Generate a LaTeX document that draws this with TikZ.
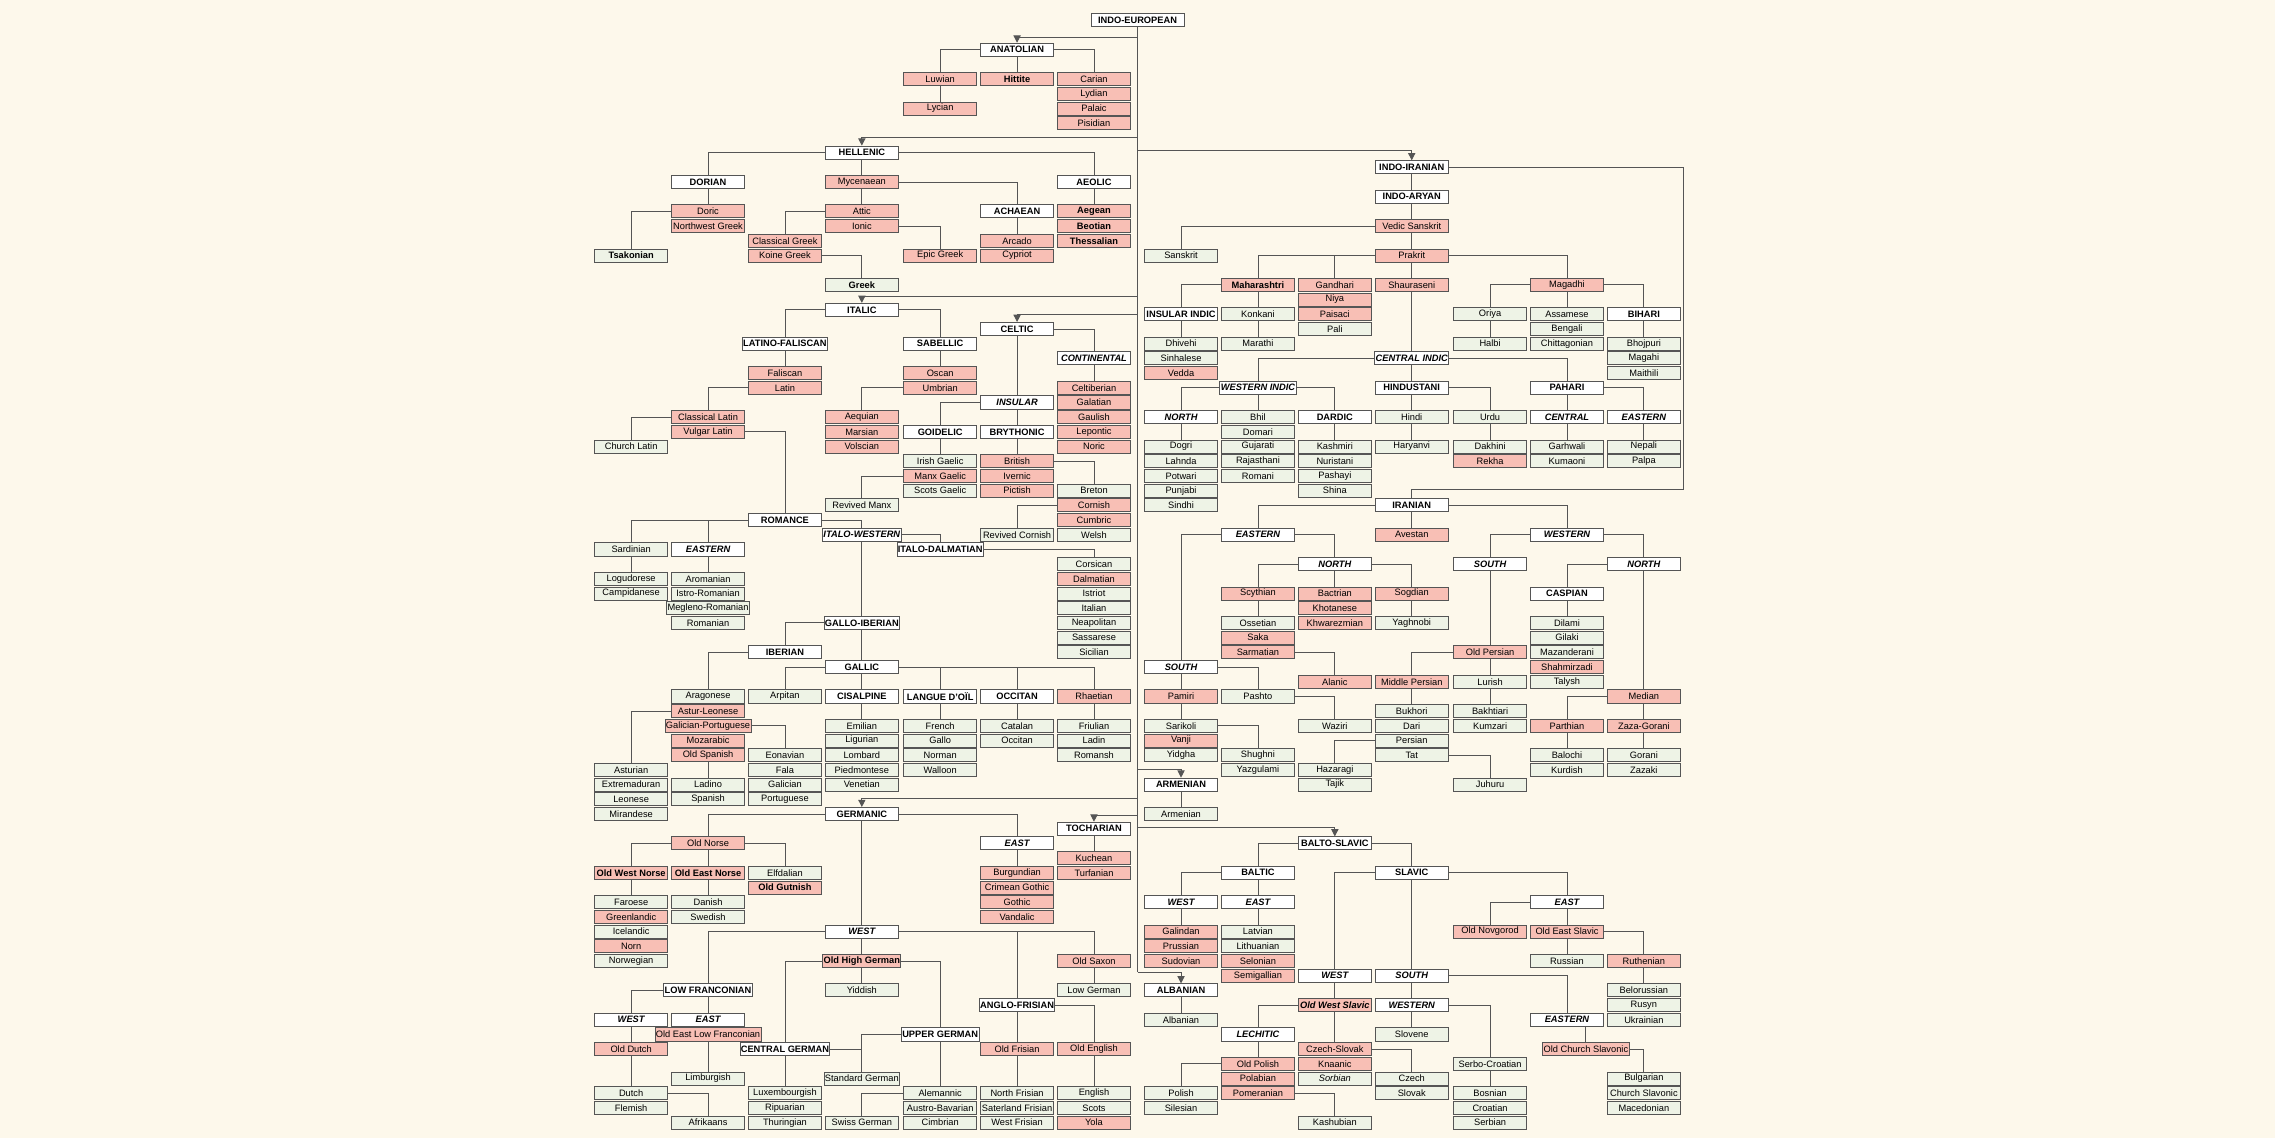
\documentclass[tikz,border=0pt]{standalone}
\usepackage{fontspec}
\setmainfont{Liberation Sans}
\usetikzlibrary{arrows.meta}
\definecolor{paper}{HTML}{FDF8EB}
\definecolor{dead}{HTML}{F8BFB5}
\definecolor{alive}{HTML}{EEF3E6}
\definecolor{rim}{HTML}{555555}
\pgfdeclarelayer{bg}
\pgfdeclarelayer{edges}
\pgfsetlayers{bg,edges,main}
\tikzset{
  lang/.style={draw=rim, line width=0.6pt, minimum width=50pt, minimum height=9pt,
    inner sep=0.6pt, font=\fontsize{6.4}{7}\selectfont},
  grp/.style={lang, fill=white, font=\fontsize{6.4}{7}\selectfont\bfseries},
  grpi/.style={grp, font=\fontsize{6.4}{7}\selectfont\bfseries\itshape},
  ext/.style={lang, fill=dead},
  extb/.style={ext, font=\fontsize{6.4}{7}\selectfont\bfseries},
  extbi/.style={ext, font=\fontsize{6.4}{7}\selectfont\bfseries\itshape},
  liv/.style={lang, fill=alive},
  livb/.style={liv, font=\fontsize{6.4}{7}\selectfont\bfseries},
  link/.style={draw=rim, line width=0.6pt},
  branch/.style={link, -{Triangle[length=5pt,width=5pt]}}
}
% node: name, x, row, style, text
\newcommand\nd[5]{\node[#4] (#1) at (#2,{14+10.13*(#3)}) {#5};}
\def\cA{435}\def\cB{488}\def\cC{541}\def\cD{594}\def\cE{648}\def\cF{701}\def\cG{754}
\def\dA{814}\def\dB{867}\def\dC{920}\def\dD{973}\def\dE{1027}\def\dF{1080}\def\dG{1133}
\begin{document}
\begin{tikzpicture}[x=1pt,y=-1pt]
\begin{pgfonlayer}{bg}
  \fill[paper] (0,0) rectangle (1568,784);
\end{pgfonlayer}
\useasboundingbox (0,0) rectangle (1568,784);

% root and trunk
\node[grp, minimum width=64pt] (ie) at (784,14) {INDO-EUROPEAN};

% Anatolian
\nd{anat}{\cF}{2}{grp}{ANATOLIAN}
\nd{luwian}{\cE}{4}{ext}{Luwian}
\nd{lycian}{\cE}{6}{ext}{Lycian}
\nd{hittite}{\cF}{4}{extb}{Hittite}
\nd{carian}{\cG}{4}{ext}{Carian}
\nd{lydian}{\cG}{5}{ext}{Lydian}
\nd{palaic}{\cG}{6}{ext}{Palaic}
\nd{pisidian}{\cG}{7}{ext}{Pisidian}

% Hellenic
\nd{hell}{\cD}{9}{grp}{HELLENIC}
\nd{dorian}{\cB}{11}{grp}{DORIAN}
\nd{myc}{\cD}{11}{ext}{Mycenaean}
\nd{aeolic}{\cG}{11}{grp}{AEOLIC}
\nd{doric}{\cB}{13}{ext}{Doric}
\nd{nwgreek}{\cB}{14}{ext}{Northwest Greek}
\nd{attic}{\cD}{13}{ext}{Attic}
\nd{ionic}{\cD}{14}{ext}{Ionic}
\nd{achaean}{\cF}{13}{grp}{ACHAEAN}
\nd{aegean}{\cG}{13}{extb}{Aegean}
\nd{beotian}{\cG}{14}{extb}{Beotian}
\nd{thess}{\cG}{15}{extb}{Thessalian}
\nd{clgreek}{\cC}{15}{ext}{Classical Greek}
\nd{koine}{\cC}{16}{ext}{Koine Greek}
\nd{epic}{\cE}{16}{ext}{Epic Greek}
\nd{arcado}{\cF}{15}{ext}{Arcado}
\nd{cypriot}{\cF}{16}{ext}{Cypriot}
\nd{tsakonian}{\cA}{16}{livb}{Tsakonian}
\nd{greek}{\cD}{18}{livb}{Greek}

% Italic
\nd{italic}{\cD}{19.7}{grp}{ITALIC}
\nd{latfal}{\cC}{22}{grp}{LATINO-FALISCAN}
\nd{sabellic}{\cE}{22}{grp}{SABELLIC}
\nd{faliscan}{\cC}{24}{ext}{Faliscan}
\nd{latin}{\cC}{25}{ext}{Latin}
\nd{oscan}{\cE}{24}{ext}{Oscan}
\nd{umbrian}{\cE}{25}{ext}{Umbrian}
\nd{cllatin}{\cB}{27}{ext}{Classical Latin}
\nd{vglatin}{\cB}{28}{ext}{Vulgar Latin}
\nd{aequian}{\cD}{27}{ext}{Aequian}
\nd{marsian}{\cD}{28}{ext}{Marsian}
\nd{volscian}{\cD}{29}{ext}{Volscian}
\nd{chlatin}{\cA}{29}{liv}{Church Latin}

% Romance
\nd{romance}{\cC}{34}{grp}{ROMANCE}
\nd{itwest}{\cD}{35}{grpi}{ITALO-WESTERN}
\nd{itdalm}{\cE}{36}{grp}{ITALO-DALMATIAN}
\nd{sardinian}{\cA}{36}{liv}{Sardinian}
\nd{roeast}{\cB}{36}{grpi}{EASTERN}
\nd{logudorese}{\cA}{38}{liv}{Logudorese}
\nd{campidanese}{\cA}{39}{liv}{Campidanese}
\nd{aromanian}{\cB}{38}{liv}{Aromanian}
\nd{istrorom}{\cB}{39}{liv}{Istro-Romanian}
\nd{meglenorom}{\cB}{40}{liv}{Megleno-Romanian}
\nd{romanian}{\cB}{41}{liv}{Romanian}
\nd{corsican}{\cG}{37}{liv}{Corsican}
\nd{dalmatian}{\cG}{38}{ext}{Dalmatian}
\nd{istriot}{\cG}{39}{liv}{Istriot}
\nd{italian}{\cG}{40}{liv}{Italian}
\nd{neapolitan}{\cG}{41}{liv}{Neapolitan}
\nd{sassarese}{\cG}{42}{liv}{Sassarese}
\nd{sicilian}{\cG}{43}{liv}{Sicilian}
\nd{galloib}{\cD}{41}{grp}{GALLO-IBERIAN}
\nd{iberian}{\cC}{43}{grp}{IBERIAN}
\nd{gallic}{\cD}{44}{grp}{GALLIC}
\nd{aragonese}{\cB}{46}{liv}{Aragonese}
\nd{asturleon}{\cB}{47}{ext}{Astur-Leonese}
\nd{galport}{\cB}{48}{ext}{Galician-Portuguese}
\nd{mozarabic}{\cB}{49}{ext}{Mozarabic}
\nd{oldspanish}{\cB}{50}{ext}{Old Spanish}
\nd{asturian}{\cA}{51}{liv}{Asturian}
\nd{extremaduran}{\cA}{52}{liv}{Extremaduran}
\nd{leonese}{\cA}{53}{liv}{Leonese}
\nd{mirandese}{\cA}{54}{liv}{Mirandese}
\nd{ladino}{\cB}{52}{liv}{Ladino}
\nd{spanish}{\cB}{53}{liv}{Spanish}
\nd{eonavian}{\cC}{50}{liv}{Eonavian}
\nd{fala}{\cC}{51}{liv}{Fala}
\nd{galician}{\cC}{52}{liv}{Galician}
\nd{portuguese}{\cC}{53}{liv}{Portuguese}
\nd{arpitan}{\cC}{46}{liv}{Arpitan}
\nd{cisalpine}{\cD}{46}{grp}{CISALPINE}
\nd{oil}{\cE}{46}{grp}{LANGUE D'OÏL}
\nd{occitangrp}{\cF}{46}{grp}{OCCITAN}
\nd{rhaetian}{\cG}{46}{ext}{Rhaetian}
\nd{emilian}{\cD}{48}{liv}{Emilian}
\nd{ligurian}{\cD}{49}{liv}{Ligurian}
\nd{lombard}{\cD}{50}{liv}{Lombard}
\nd{piedmontese}{\cD}{51}{liv}{Piedmontese}
\nd{venetian}{\cD}{52}{liv}{Venetian}
\nd{french}{\cE}{48}{liv}{French}
\nd{gallo}{\cE}{49}{liv}{Gallo}
\nd{norman}{\cE}{50}{liv}{Norman}
\nd{walloon}{\cE}{51}{liv}{Walloon}
\nd{catalan}{\cF}{48}{liv}{Catalan}
\nd{occitan}{\cF}{49}{liv}{Occitan}
\nd{friulian}{\cG}{48}{liv}{Friulian}
\nd{ladin}{\cG}{49}{liv}{Ladin}
\nd{romansh}{\cG}{50}{liv}{Romansh}

% Celtic
\nd{celtic}{\cF}{21}{grp}{CELTIC}
\nd{continental}{\cG}{23}{grpi}{CONTINENTAL}
\nd{insular}{\cF}{26}{grpi}{INSULAR}
\nd{celtiberian}{\cG}{25}{ext}{Celtiberian}
\nd{galatian}{\cG}{26}{ext}{Galatian}
\nd{gaulish}{\cG}{27}{ext}{Gaulish}
\nd{lepontic}{\cG}{28}{ext}{Lepontic}
\nd{noric}{\cG}{29}{ext}{Noric}
\nd{goidelic}{\cE}{28}{grp}{GOIDELIC}
\nd{brythonic}{\cF}{28}{grp}{BRYTHONIC}
\nd{irish}{\cE}{30}{liv}{Irish Gaelic}
\nd{manx}{\cE}{31}{ext}{Manx Gaelic}
\nd{scots}{\cE}{32}{liv}{Scots Gaelic}
\nd{british}{\cF}{30}{ext}{British}
\nd{ivernic}{\cF}{31}{ext}{Ivernic}
\nd{pictish}{\cF}{32}{ext}{Pictish}
\nd{breton}{\cG}{32}{liv}{Breton}
\nd{cornish}{\cG}{33}{ext}{Cornish}
\nd{cumbric}{\cG}{34}{ext}{Cumbric}
\nd{welsh}{\cG}{35}{liv}{Welsh}
\nd{revmanx}{\cD}{33}{liv}{Revived Manx}
\nd{revcornish}{\cF}{35}{liv}{Revived Cornish}

% Germanic
\nd{germanic}{\cD}{54}{grp}{GERMANIC}
\nd{oldnorse}{\cB}{56}{ext}{Old Norse}
\nd{own}{\cA}{58}{extb}{Old West Norse}
\nd{oen}{\cB}{58}{extb}{Old East Norse}
\nd{elfdalian}{\cC}{58}{liv}{Elfdalian}
\nd{gutnish}{\cC}{59}{extb}{Old Gutnish}
\nd{faroese}{\cA}{60}{liv}{Faroese}
\nd{greenlandic}{\cA}{61}{ext}{Greenlandic}
\nd{icelandic}{\cA}{62}{liv}{Icelandic}
\nd{norn}{\cA}{63}{ext}{Norn}
\nd{norwegian}{\cA}{64}{liv}{Norwegian}
\nd{danish}{\cB}{60}{liv}{Danish}
\nd{swedish}{\cB}{61}{liv}{Swedish}
\nd{geast}{\cF}{56}{grpi}{EAST}
\nd{burgundian}{\cF}{58}{ext}{Burgundian}
\nd{crimgothic}{\cF}{59}{ext}{Crimean Gothic}
\nd{gothic}{\cF}{60}{ext}{Gothic}
\nd{vandalic}{\cF}{61}{ext}{Vandalic}
\nd{gwest}{\cD}{62}{grpi}{WEST}
\nd{lowfr}{\cB}{66}{grp}{LOW FRANCONIAN}
\nd{ohg}{\cD}{64}{extb}{Old High German}
\nd{angfris}{\cF}{67}{grp}{ANGLO-FRISIAN}
\nd{oldsaxon}{\cG}{64}{ext}{Old Saxon}
\nd{lowgerman}{\cG}{66}{liv}{Low German}
\nd{yiddish}{\cD}{66}{liv}{Yiddish}
\nd{centralger}{\cC}{70}{grp}{CENTRAL GERMAN}
\nd{upperger}{\cE}{69}{grp}{UPPER GERMAN}
\nd{lfwest}{\cA}{68}{grpi}{WEST}
\nd{lfeast}{\cB}{68}{grpi}{EAST}
\nd{oelf}{\cB}{69}{ext}{Old East Low Franconian}
\nd{olddutch}{\cA}{70}{ext}{Old Dutch}
\nd{dutch}{\cA}{73}{liv}{Dutch}
\nd{flemish}{\cA}{74}{liv}{Flemish}
\nd{afrikaans}{\cB}{75}{liv}{Afrikaans}
\nd{limburgish}{\cB}{72}{liv}{Limburgish}
\nd{luxembourgish}{\cC}{73}{liv}{Luxembourgish}
\nd{ripuarian}{\cC}{74}{liv}{Ripuarian}
\nd{thuringian}{\cC}{75}{liv}{Thuringian}
\nd{stdgerman}{\cD}{72}{liv}{Standard German}
\nd{swissgerman}{\cD}{75}{liv}{Swiss German}
\nd{alemannic}{\cE}{73}{liv}{Alemannic}
\nd{austrobav}{\cE}{74}{liv}{Austro-Bavarian}
\nd{cimbrian}{\cE}{75}{liv}{Cimbrian}
\nd{oldfrisian}{\cF}{70}{ext}{Old Frisian}
\nd{oldenglish}{\cG}{70}{ext}{Old English}
\nd{nfrisian}{\cF}{73}{liv}{North Frisian}
\nd{sfrisian}{\cF}{74}{liv}{Saterland Frisian}
\nd{wfrisian}{\cF}{75}{liv}{West Frisian}
\nd{english}{\cG}{73}{liv}{English}
\nd{scotsl}{\cG}{74}{liv}{Scots}
\nd{yola}{\cG}{75}{ext}{Yola}

% Tocharian, Armenian, Albanian
\nd{tochar}{\cG}{55}{grp}{TOCHARIAN}
\nd{kuchean}{\cG}{57}{ext}{Kuchean}
\nd{turfanian}{\cG}{58}{ext}{Turfanian}
\nd{armgrp}{\dA}{52}{grp}{ARMENIAN}
\nd{armenian}{\dA}{54}{liv}{Armenian}
\nd{albgrp}{\dA}{66}{grp}{ALBANIAN}
\nd{albanian}{\dA}{68}{liv}{Albanian}

% Balto-Slavic
\nd{bsl}{\dC}{56}{grp}{BALTO-SLAVIC}
\nd{baltic}{\dB}{58}{grp}{BALTIC}
\nd{slavic}{\dD}{58}{grp}{SLAVIC}
\nd{bwest}{\dA}{60}{grpi}{WEST}
\nd{beast}{\dB}{60}{grpi}{EAST}
\nd{galindan}{\dA}{62}{ext}{Galindan}
\nd{prussian}{\dA}{63}{ext}{Prussian}
\nd{sudovian}{\dA}{64}{ext}{Sudovian}
\nd{latvian}{\dB}{62}{liv}{Latvian}
\nd{lithuanian}{\dB}{63}{liv}{Lithuanian}
\nd{selonian}{\dB}{64}{ext}{Selonian}
\nd{semigallian}{\dB}{65}{ext}{Semigallian}
\nd{swest}{\dC}{65}{grpi}{WEST}
\nd{ssouth}{\dD}{65}{grpi}{SOUTH}
\nd{seast}{\dF}{60}{grpi}{EAST}
\nd{novgorod}{\dE}{62}{ext}{Old Novgorod}
\nd{oes}{\dF}{62}{ext}{Old East Slavic}
\nd{russian}{\dF}{64}{liv}{Russian}
\nd{ruthenian}{\dG}{64}{ext}{Ruthenian}
\nd{belorussian}{\dG}{66}{liv}{Belorussian}
\nd{rusyn}{\dG}{67}{liv}{Rusyn}
\nd{ukrainian}{\dG}{68}{liv}{Ukrainian}
\nd{ows}{\dC}{67}{extbi}{Old West Slavic}
\nd{lechitic}{\dB}{69}{grpi}{LECHITIC}
\nd{czslovak}{\dC}{70}{ext}{Czech-Slovak}
\nd{knaanic}{\dC}{71}{ext}{Knaanic}
\nd{sorbian}{\dC}{72}{liv}{\itshape Sorbian}
\nd{oldpolish}{\dB}{71}{ext}{Old Polish}
\nd{polabian}{\dB}{72}{ext}{Polabian}
\nd{pomeranian}{\dB}{73}{ext}{Pomeranian}
\nd{polish}{\dA}{73}{liv}{Polish}
\nd{silesian}{\dA}{74}{liv}{Silesian}
\nd{kashubian}{\dC}{75}{liv}{Kashubian}
\nd{czech}{\dD}{72}{liv}{Czech}
\nd{slovak}{\dD}{73}{liv}{Slovak}
\nd{swestern}{\dD}{67}{grpi}{WESTERN}
\nd{slovene}{\dD}{69}{liv}{Slovene}
\nd{serbocro}{\dE}{71}{liv}{Serbo-Croatian}
\nd{bosnian}{\dE}{73}{liv}{Bosnian}
\nd{croatian}{\dE}{74}{liv}{Croatian}
\nd{serbian}{\dE}{75}{liv}{Serbian}
\nd{seastern}{\dF}{68}{grpi}{EASTERN}
\nd{ocs}{1093}{70}{ext}{Old Church Slavonic}
\nd{bulgarian}{\dG}{72}{liv}{Bulgarian}
\nd{chslavonic}{\dG}{73}{liv}{Church Slavonic}
\nd{macedonian}{\dG}{74}{liv}{Macedonian}

% Indo-Aryan
\nd{indoir}{\dD}{10}{grp}{INDO-IRANIAN}
\nd{indoar}{\dD}{12}{grp}{INDO-ARYAN}
\nd{vedic}{\dD}{14}{ext}{Vedic Sanskrit}
\nd{sanskrit}{\dA}{16}{liv}{Sanskrit}
\nd{prakrit}{\dD}{16}{ext}{Prakrit}
\nd{mahar}{\dB}{18}{extb}{Maharashtri}
\nd{gandhari}{\dC}{18}{ext}{Gandhari}
\nd{shaur}{\dD}{18}{ext}{Shauraseni}
\nd{magadhi}{\dF}{18}{ext}{Magadhi}
\nd{niya}{\dC}{19}{ext}{Niya}
\nd{paisaci}{\dC}{20}{ext}{Paisaci}
\nd{pali}{\dC}{21}{liv}{Pali}
\nd{insindic}{\dA}{20}{grp}{INSULAR INDIC}
\nd{konkani}{\dB}{20}{liv}{Konkani}
\nd{marathi}{\dB}{22}{liv}{Marathi}
\nd{dhivehi}{\dA}{22}{liv}{Dhivehi}
\nd{sinhalese}{\dA}{23}{liv}{Sinhalese}
\nd{vedda}{\dA}{24}{ext}{Vedda}
\nd{oriya}{\dE}{20}{liv}{Oriya}
\nd{assamese}{\dF}{20}{liv}{Assamese}
\nd{bihari}{\dG}{20}{grp}{BIHARI}
\nd{halbi}{\dE}{22}{liv}{Halbi}
\nd{bengali}{\dF}{21}{liv}{Bengali}
\nd{chittagonian}{\dF}{22}{liv}{Chittagonian}
\nd{bhojpuri}{\dG}{22}{liv}{Bhojpuri}
\nd{magahi}{\dG}{23}{liv}{Magahi}
\nd{maithili}{\dG}{24}{liv}{Maithili}
\nd{centindic}{\dD}{23}{grpi}{CENTRAL INDIC}
\nd{westindic}{\dB}{25}{grpi}{WESTERN INDIC}
\nd{hindustani}{\dD}{25}{grp}{HINDUSTANI}
\nd{pahari}{\dF}{25}{grp}{PAHARI}
\nd{wnorth}{\dA}{27}{grpi}{NORTH}
\nd{bhil}{\dB}{27}{liv}{Bhil}
\nd{dardic}{\dC}{27}{grp}{DARDIC}
\nd{dogri}{\dA}{29}{liv}{Dogri}
\nd{lahnda}{\dA}{30}{liv}{Lahnda}
\nd{potwari}{\dA}{31}{liv}{Potwari}
\nd{punjabi}{\dA}{32}{liv}{Punjabi}
\nd{sindhi}{\dA}{33}{liv}{Sindhi}
\nd{domari}{\dB}{28}{liv}{Domari}
\nd{gujarati}{\dB}{29}{liv}{Gujarati}
\nd{rajasthani}{\dB}{30}{liv}{Rajasthani}
\nd{romani}{\dB}{31}{liv}{Romani}
\nd{kashmiri}{\dC}{29}{liv}{Kashmiri}
\nd{nuristani}{\dC}{30}{liv}{Nuristani}
\nd{pashayi}{\dC}{31}{liv}{Pashayi}
\nd{shina}{\dC}{32}{liv}{Shina}
\nd{hindi}{\dD}{27}{liv}{Hindi}
\nd{urdu}{\dE}{27}{liv}{Urdu}
\nd{haryanvi}{\dD}{29}{liv}{Haryanvi}
\nd{dakhini}{\dE}{29}{liv}{Dakhini}
\nd{rekha}{\dE}{30}{ext}{Rekha}
\nd{pcentral}{\dF}{27}{grpi}{CENTRAL}
\nd{peastern}{\dG}{27}{grpi}{EASTERN}
\nd{garhwali}{\dF}{29}{liv}{Garhwali}
\nd{kumaoni}{\dF}{30}{liv}{Kumaoni}
\nd{nepali}{\dG}{29}{liv}{Nepali}
\nd{palpa}{\dG}{30}{liv}{Palpa}

% Iranian
\nd{iranian}{\dD}{33}{grp}{IRANIAN}
\nd{ieastern}{\dB}{35}{grpi}{EASTERN}
\nd{avestan}{\dD}{35}{ext}{Avestan}
\nd{iwestern}{\dF}{35}{grpi}{WESTERN}
\nd{enorth}{\dC}{37}{grpi}{NORTH}
\nd{esouth}{\dA}{44}{grpi}{SOUTH}
\nd{scythian}{\dB}{39}{ext}{Scythian}
\nd{bactrian}{\dC}{39}{ext}{Bactrian}
\nd{sogdian}{\dD}{39}{ext}{Sogdian}
\nd{khotanese}{\dC}{40}{ext}{Khotanese}
\nd{khwarezmian}{\dC}{41}{ext}{Khwarezmian}
\nd{yaghnobi}{\dD}{41}{liv}{Yaghnobi}
\nd{ossetian}{\dB}{41}{liv}{Ossetian}
\nd{saka}{\dB}{42}{ext}{Saka}
\nd{sarmatian}{\dB}{43}{ext}{Sarmatian}
\nd{alanic}{\dC}{45}{ext}{Alanic}
\nd{pamiri}{\dA}{46}{ext}{Pamiri}
\nd{pashto}{\dB}{46}{liv}{Pashto}
\nd{sarikoli}{\dA}{48}{liv}{Sarikoli}
\nd{vanji}{\dA}{49}{ext}{Vanji}
\nd{yidgha}{\dA}{50}{liv}{Yidgha}
\nd{shughni}{\dB}{50}{liv}{Shughni}
\nd{yazgulami}{\dB}{51}{liv}{Yazgulami}
\nd{waziri}{\dC}{48}{liv}{Waziri}
\nd{wsouth}{\dE}{37}{grpi}{SOUTH}
\nd{wnorthir}{\dG}{37}{grpi}{NORTH}
\nd{oldpersian}{\dE}{43}{ext}{Old Persian}
\nd{midpersian}{\dD}{45}{ext}{Middle Persian}
\nd{lurish}{\dE}{45}{liv}{Lurish}
\nd{bakhtiari}{\dE}{47}{liv}{Bakhtiari}
\nd{kumzari}{\dE}{48}{liv}{Kumzari}
\nd{bukhori}{\dD}{47}{liv}{Bukhori}
\nd{dari}{\dD}{48}{liv}{Dari}
\nd{persian}{\dD}{49}{liv}{Persian}
\nd{tat}{\dD}{50}{liv}{Tat}
\nd{hazaragi}{\dC}{51}{liv}{Hazaragi}
\nd{tajik}{\dC}{52}{liv}{Tajik}
\nd{juhuru}{\dE}{52}{liv}{Juhuru}
\nd{caspian}{\dF}{39}{grp}{CASPIAN}
\nd{dilami}{\dF}{41}{liv}{Dilami}
\nd{gilaki}{\dF}{42}{liv}{Gilaki}
\nd{mazanderani}{\dF}{43}{liv}{Mazanderani}
\nd{shahmirzadi}{\dF}{44}{ext}{Shahmirzadi}
\nd{talysh}{\dF}{45}{liv}{Talysh}
\nd{median}{\dG}{46}{ext}{Median}
\nd{parthian}{\dF}{48}{ext}{Parthian}
\nd{zazagorani}{\dG}{48}{ext}{Zaza-Gorani}
\nd{balochi}{\dF}{50}{liv}{Balochi}
\nd{kurdish}{\dF}{51}{liv}{Kurdish}
\nd{gorani}{\dG}{50}{liv}{Gorani}
\nd{zazaki}{\dG}{51}{liv}{Zazaki}

\begin{pgfonlayer}{edges}
  % trunk and branches
  \draw[link] (ie.south) -- (784,670);
  \foreach \y/\n in {26/anat, 95/hell, 104/indoir, 204/italic, 217/celtic, 530/armgrp,
                     550/germanic, 562/tochar, 570/bsl, 670/albgrp}
    \draw[branch] (784,\y) -| (\n.north);
  \draw[link] (indoir.east) -| (1160,337) -| (iranian.north);
  % parent to child
  \foreach \p/\c in {anat/luwian, anat/hittite, anat/carian, luwian/lycian,
    hell/dorian, hell/myc, hell/aeolic, dorian/doric, doric/tsakonian, myc/attic, myc/achaean,
    aeolic/aegean, attic/clgreek, ionic/epic, achaean/arcado, koine/greek,
    italic/latfal, italic/sabellic, latfal/faliscan, latin/cllatin, cllatin/chlatin,
    vglatin/romance, sabellic/oscan, umbrian/aequian,
    romance/sardinian, romance/roeast, romance/itwest, itwest/itdalm, itdalm/corsican,
    sardinian/logudorese, roeast/aromanian, itwest/galloib, galloib/iberian, galloib/gallic,
    iberian/aragonese, asturleon/asturian, oldspanish/ladino, galport/eonavian,
    gallic/arpitan, gallic/cisalpine, gallic/oil, gallic/occitangrp, gallic/rhaetian,
    cisalpine/emilian, oil/french, occitangrp/catalan, rhaetian/friulian,
    celtic/continental, celtic/insular, continental/celtiberian, insular/goidelic,
    insular/brythonic, goidelic/irish, brythonic/british, british/breton,
    manx/revmanx, cornish/revcornish,
    germanic/oldnorse, germanic/geast, germanic/gwest, oldnorse/own, oldnorse/oen,
    oldnorse/elfdalian, own/faroese, oen/danish, geast/burgundian,
    gwest/lowfr, gwest/ohg, gwest/angfris, gwest/oldsaxon, oldsaxon/lowgerman,
    ohg/yiddish, ohg/centralger, ohg/upperger, lowfr/lfwest, lowfr/lfeast, lfeast/oelf,
    lfwest/olddutch, olddutch/dutch, dutch/afrikaans, oelf/limburgish,
    centralger/luxembourgish, centralger/stdgerman, upperger/stdgerman, upperger/alemannic,
    alemannic/swissgerman, angfris/oldfrisian, angfris/oldenglish, oldfrisian/nfrisian,
    oldenglish/english, tochar/kuchean, armgrp/armenian, albgrp/albanian,
    bsl/baltic, bsl/slavic, baltic/bwest, baltic/beast, bwest/galindan, beast/latvian,
    slavic/swest, slavic/ssouth, slavic/seast, seast/novgorod, seast/oes, oes/russian,
    oes/ruthenian, ruthenian/belorussian, swest/ows, ows/lechitic, ows/czslovak,
    lechitic/oldpolish, oldpolish/polish, pomeranian/kashubian, czslovak/czech,
    ssouth/swestern, swestern/slovene, swestern/serbocro, serbocro/bosnian,
    ssouth/seastern, seastern/ocs, ocs/bulgarian,
    indoir/indoar, indoar/vedic, vedic/sanskrit, vedic/prakrit, prakrit/mahar,
    prakrit/gandhari, prakrit/shaur, prakrit/magadhi, mahar/insindic, mahar/konkani,
    konkani/marathi, insindic/dhivehi, magadhi/oriya, magadhi/assamese, magadhi/bihari,
    oriya/halbi, bihari/bhojpuri, shaur/centindic, centindic/westindic,
    centindic/hindustani, centindic/pahari, westindic/wnorth, westindic/bhil,
    westindic/dardic, wnorth/dogri, dardic/kashmiri, hindustani/hindi, hindustani/urdu,
    hindi/haryanvi, urdu/dakhini, pahari/pcentral, pahari/peastern, pcentral/garhwali,
    peastern/nepali,
    iranian/ieastern, iranian/avestan, iranian/iwestern, ieastern/enorth, ieastern/esouth,
    enorth/scythian, enorth/bactrian, enorth/sogdian, sogdian/yaghnobi, scythian/ossetian,
    sarmatian/alanic, esouth/pamiri, esouth/pashto, pamiri/sarikoli, sarikoli/shughni,
    pashto/waziri, iwestern/wsouth, iwestern/wnorthir, wsouth/oldpersian,
    oldpersian/midpersian, oldpersian/lurish, lurish/bakhtiari, midpersian/bukhori,
    persian/hazaragi, tat/juhuru, wnorthir/caspian, caspian/dilami, wnorthir/median,
    median/parthian, median/zazagorani, parthian/balochi, zazagorani/gorani}
    \draw[link] (\p) -| (\c);
\end{pgfonlayer}
\end{tikzpicture}
\end{document}
